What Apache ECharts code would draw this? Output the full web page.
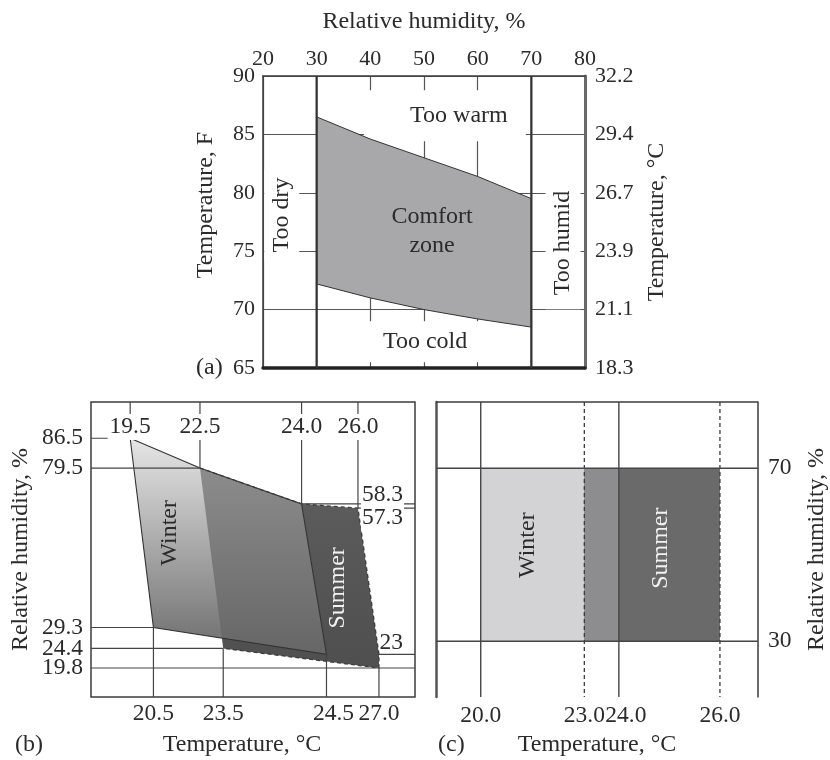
<!DOCTYPE html>
<html><head><meta charset="utf-8">
<script src="https://cdn.jsdelivr.net/npm/echarts@6/dist/echarts.min.js"></script>
<style>html,body{margin:0;padding:0;background:#fff}#c{width:830px;height:760px}</style>
</head><body><div id="c"></div>
<script>
// ---------- Panel (a): comfort zone on RH / temperature ----------
const aRH = [30, 40, 50, 60, 70];
const aUpperF = [86.5, 84.6, 83.0, 81.4, 79.5];
const aLowerF = [72.2, 71.0, 70.0, 69.2, 68.5];
const aLimitRH = [30, 70];
const aFTicks = [65, 70, 75, 80, 85, 90];
const aCTickLabels = ['18.3', '21.1', '23.9', '26.7', '29.4', '32.2'];

// ---------- Panel (b): winter / summer zones (schematic) ----------
const bWinterT = [19.5, 22.5, 24.0, 24.5, 20.5];
const bWinterRH = [86.5, 79.5, 58.3, 23.0, 29.3];
const bSummerT = [22.5, 24.0, 26.0, 27.0, 27.0, 23.5];
const bSummerRH = [79.5, 58.3, 57.3, 23.0, 19.8, 24.4];
const bTopT = [19.5, 22.5, 24.0, 26.0];
const bTopRH = [86.5, 79.5, 58.3, 57.3];
const bBottomT = [20.5, 23.5, 24.5, 27.0];
const bBottomRH = [29.3, 24.4, 23.0, 19.8];
const bLeftRH = [86.5, 79.5, 29.3, 24.4, 19.8];
const bLeftT = [19.5, 22.5, 20.5, 23.5, 27.0];
const bRightRH = [58.3, 57.3, 23.0, 19.8];
const bRightT = [24.0, 26.0, 27.0, 27.0];
const bRightLabels = [58.3, 57.3, 23];

// ---------- Panel (c): winter / summer rectangles ----------
const cWinterT = [20.0, 24.0];
const cSummerT = [23.0, 26.0];
const cRH = [30, 70];
const cTempTicks = [20.0, 23.0, 24.0, 26.0];

// ---------- styling ----------
const FONT = 'Liberation Serif';
const TXT = '#2b2b2b';
const LINE = '#454545';
const FS_NAME = 24, FS_A = 22, FS_BC = 23.5, FS_NOTE = 24;
const labA = {fontFamily: FONT, fontSize: FS_A, color: TXT};
const labBC = {fontFamily: FONT, fontSize: FS_BC, color: TXT};
const nameSt = {fontFamily: FONT, fontSize: FS_NAME, color: TXT};
const PI2 = Math.PI / 2;

// axis shapes for the schematic panels (non-uniform scales reproduced with axis breaks)
const bX = {min: 19.25, max: 27.23, breaks: [
  {start: 19.5, end: 23.5, gap: 0.594},
  {start: 24.0, end: 24.5, gap: 0.159},
  {start: 24.5, end: 27.0, gap: 0.335}]};
const bY = {min: 13, max: 95, breaks: [{start: 58.3, end: 79.5, gap: 8.4}]};
const cX = {min: 19.115, max: 26.753, breaks: [{start: 20, end: 24, gap: 2.733}]};
const cY = {min: 17.1, max: 85.3};
// label nudges (layout only, pixels)
const bRightDy = [-9, 10, -12];
const bRightBg = ['#fff', '#fff', null];
const bBottomNudge = ['n', 'n', 'r', 'n'];
const cBottomNudge = ['n', 'n', 'r', 'n'];

// ---------- helpers ----------
function rect(T, RH) { return {T: [T[0], T[1], T[1], T[0]], RH: [RH[0], RH[0], RH[1], RH[1]]}; }
function idxOf(arr, v) { return arr.findIndex(r => Math.abs(r - v) < 1e-6); }
function clipHalf(poly, A, B, C) {
  const side = p => (B[0] - A[0]) * (p[1] - A[1]) - (B[1] - A[1]) * (p[0] - A[0]);
  const s = Math.sign(side(C)) || 1;
  const out = [];
  for (let i = 0; i < poly.length; i++) {
    const P = poly[i], Q = poly[(i + 1) % poly.length];
    const sp = side(P) * s, sq = side(Q) * s;
    if (sp >= 0) out.push(P);
    if ((sp >= 0) !== (sq >= 0)) {
      const t = sp / (sp - sq);
      out.push([P[0] + t * (Q[0] - P[0]), P[1] + t * (Q[1] - P[1])]);
    }
  }
  return out;
}
function polySeries(xi, yi, T, RH, style, z, open) {
  return {type: 'custom', xAxisIndex: xi, yAxisIndex: yi, z: z, silent: true,
    data: T.map((t, i) => [t, RH[i]]),
    renderItem(params, api) {
      if (params.dataIndex !== 0) return null;
      const pts = T.map((t, i) => api.coord([t, RH[i]]));
      return {type: open ? 'polyline' : 'polygon', shape: {points: pts}, style: style};
    }};
}
function overlapSeries(xi, yi, W, S, style, z) {
  return {type: 'custom', xAxisIndex: xi, yAxisIndex: yi, z: z, silent: true,
    data: W.T.map((t, i) => [t, W.RH[i]]),
    renderItem(params, api) {
      if (params.dataIndex !== 0) return null;
      const wp = W.T.map((t, i) => api.coord([t, W.RH[i]]));
      const sp = S.T.map((t, i) => api.coord([t, S.RH[i]]));
      const C = [sp.reduce((a, p) => a + p[0], 0) / sp.length, sp.reduce((a, p) => a + p[1], 0) / sp.length];
      const pts = clipHalf(wp, sp[0], sp[sp.length - 1], C);
      return {type: 'polygon', shape: {points: pts}, style: style};
    }};
}
function segSeries(xi, yi, T, RH, dir, style, z) {
  return {type: 'custom', xAxisIndex: xi, yAxisIndex: yi, z: z, silent: true,
    data: T.map((t, i) => [t, RH[i]]),
    renderItem(params, api) {
      const p = api.coord([api.value(0), api.value(1)]);
      const cs = params.coordSys;
      let x2 = p[0], y2 = p[1];
      if (dir === 'up') y2 = cs.y; else if (dir === 'down') y2 = cs.y + cs.height;
      else if (dir === 'left') x2 = cs.x; else x2 = cs.x + cs.width;
      return {type: 'line', shape: {x1: p[0], y1: p[1], x2: x2, y2: y2}, style: style};
    }};
}
function fullV(xi, yi, T, yRef, style, z) {
  return {type: 'custom', xAxisIndex: xi, yAxisIndex: yi, z: z, silent: true,
    data: T.map(t => [t, yRef]),
    renderItem(params, api) {
      const x = api.coord([api.value(0), api.value(1)])[0];
      const cs = params.coordSys;
      return {type: 'line', shape: {x1: x, y1: cs.y, x2: x, y2: cs.y + cs.height}, style: style};
    }};
}
function fullH(xi, yi, RH, xRef, style, z) {
  return {type: 'custom', xAxisIndex: xi, yAxisIndex: yi, z: z, silent: true,
    data: RH.map(r => [xRef, r]),
    renderItem(params, api) {
      const y = api.coord([api.value(0), api.value(1)])[1];
      const cs = params.coordSys;
      return {type: 'line', shape: {x1: cs.x, y1: y, x2: cs.x + cs.width, y2: y}, style: style};
    }};
}
// RH tick labels of panel (b), placed on the y scale of that panel
function rhLabelSeries(xi, yi, values, xRef, side, margin, dy, bg, z) {
  return {type: 'custom', xAxisIndex: xi, yAxisIndex: yi, z: z, silent: true,
    data: values.map(v => [xRef, v]),
    renderItem(params, api) {
      const i = params.dataIndex;
      const y = api.coord([api.value(0), api.value(1)])[1];
      const cs = params.coordSys;
      const x = side === 'left' ? cs.x - margin : cs.x + cs.width - margin;
      return {type: 'text', x: x, y: y + (dy ? dy[i] : 0),
        style: {text: String(values[i]), fill: TXT, font: FS_BC + 'px "' + FONT + '"',
          align: 'right', verticalAlign: 'middle',
          backgroundColor: bg ? bg[i] : null, padding: [0, 1]}};
    }};
}
function textSeries(xi, yi, notes, z) {
  return {type: 'custom', xAxisIndex: xi, yAxisIndex: yi, z: z, silent: true,
    data: notes.map(n => [n.x, n.y]),
    renderItem(params, api) {
      const n = notes[params.dataIndex];
      const p = api.coord([n.x, n.y]);
      return {type: 'text', x: p[0], y: p[1], rotation: n.rot || 0,
        style: {text: n.text, fill: n.color || TXT, font: FS_NOTE + 'px "' + FONT + '"',
          align: 'center', verticalAlign: 'middle', lineHeight: 29,
          backgroundColor: n.bg || null, padding: n.pad || 0}};
    }};
}

// ---------- annotation placement (data coordinates) ----------
const aNotesHalo = [
  {text: 'Too warm', x: 53.9, y: 86.6, bg: '#fff', pad: [13, 18, 9, 46]},
  {text: 'Too dry', x: 23.5, y: 78.1, rot: PI2, bg: '#fff', pad: [3, 8]},
  {text: 'Too humid', x: 75.9, y: 75.7, rot: PI2, bg: '#fff', pad: [3, 14]},
  {text: 'Too cold', x: 50.2, y: 67.25, bg: '#fff', pad: [6, 18]}
];
const aNotesIn = [{text: 'Comfort\nzone', x: 51.5, y: 76.7}];
const bNotes = [
  {text: 'Winter', x: 21.2, y: 51.5, rot: PI2},
  {text: 'Summer', x: 25.03, y: 38.6, rot: PI2, color: '#f2f2f2'}
];
const cNotes = [
  {text: 'Winter', x: 21.35, y: 52.2, rot: PI2},
  {text: 'Summer', x: 24.82, y: 51.5, rot: PI2, color: '#f2f2f2'}
];

const line = (w, c) => ({show: true, onZero: false, lineStyle: {color: c || '#3c3c3c', width: w || 1.5}});
const noLine = {show: false};
const noTick = {show: false};
const noSplit = {show: false};
const solid = {stroke: LINE, lineWidth: 1.2};
const dashed = {stroke: '#3c3c3c', lineWidth: 1.3, lineDash: [4, 3]};
const grad = (a, b) => new echarts.graphic.LinearGradient(0, 0, 0, 1, [{offset: 0, color: a}, {offset: 1, color: b}]);
const nudgeRich = base => ({
  n: Object.assign({}, base),
  r: Object.assign({padding: [0, 0, 0, 14]}, base)
});

const cW = rect(cWinterT, cRH), cS = rect(cSummerT, cRH);
const bW = {T: bWinterT, RH: bWinterRH}, bS = {T: bSummerT, RH: bSummerRH};

const chart = echarts.init(document.getElementById('c'), null, {renderer: 'canvas'});
chart.setOption({
  animation: false,
  backgroundColor: '#fff',
  textStyle: {fontFamily: FONT},
  grid: [
    {left: 263, top: 76, width: 322, height: 292},
    {left: 91, top: 402, width: 324, height: 295, show: true, borderColor: '#3c3c3c', borderWidth: 1.5},
    {left: 436, top: 402, width: 324, height: 295}
  ],
  xAxis: [
    {gridIndex: 0, type: 'value', position: 'top', min: 20, max: 80, interval: 10,
      axisLine: line(1.5), axisTick: noTick, axisLabel: Object.assign({margin: 6}, labA),
      splitLine: {show: true, lineStyle: {color: '#555', width: 1.2}},
      name: 'Relative humidity, %', nameLocation: 'middle', nameGap: 42, nameTextStyle: nameSt},
    {gridIndex: 0, type: 'value', position: 'bottom', min: 20, max: 80, interval: 10,
      axisLine: line(3.5, '#222'), axisTick: noTick, axisLabel: {show: false}, splitLine: noSplit},
    Object.assign({gridIndex: 1, type: 'value', position: 'top', z: 10,
      breakArea: {show: false}, axisLine: noLine, axisTick: noTick, splitLine: noSplit,
      axisLabel: Object.assign({inside: true, margin: 12, customValues: bTopT,
        showMinLabel: true, showMaxLabel: true, formatter: v => v.toFixed(1),
        backgroundColor: '#fff', padding: [1, 2]}, labBC)}, bX),
    Object.assign({gridIndex: 1, type: 'value', position: 'bottom', z: 10,
      breakArea: {show: false}, axisLine: noLine, axisTick: noTick, splitLine: noSplit,
      axisLabel: Object.assign({margin: 5, customValues: bBottomT, showMinLabel: true, showMaxLabel: true,
        formatter: v => '{' + bBottomNudge[idxOf(bBottomT, v)] + '|' + v.toFixed(1) + '}',
        rich: nudgeRich(labBC)}, labBC),
      name: 'Temperature, \u00B0C', nameLocation: 'middle', nameGap: 36,
      nameTextStyle: Object.assign({padding: [0, 22, 0, 0]}, nameSt)}, bX),
    Object.assign({gridIndex: 2, type: 'value', position: 'top',
      breakArea: {show: false}, axisLine: noLine, axisTick: noTick, splitLine: noSplit,
      axisLabel: {show: false}}, cX),
    Object.assign({gridIndex: 2, type: 'value', position: 'bottom',
      breakArea: {show: false}, axisLine: noLine, axisTick: noTick, splitLine: noSplit,
      axisLabel: Object.assign({margin: 7, customValues: cTempTicks, showMinLabel: true, showMaxLabel: true,
        formatter: v => '{' + cBottomNudge[idxOf(cTempTicks, v)] + '|' + v.toFixed(1) + '}',
        rich: nudgeRich(labBC)}, labBC),
      name: 'Temperature, \u00B0C', nameLocation: 'middle', nameGap: 36, nameTextStyle: nameSt}, cX)
  ],
  yAxis: [
    {gridIndex: 0, type: 'value', position: 'left', min: 65, max: 90, interval: 5,
      axisLine: line(1.5), axisTick: noTick, axisLabel: Object.assign({margin: 8}, labA),
      splitLine: {show: true, lineStyle: {color: '#555', width: 1.2}},
      name: 'Temperature, F', nameLocation: 'middle', nameGap: 45,
      nameTextStyle: Object.assign({padding: [0, 0, 0, 34]}, nameSt)},
    {gridIndex: 0, type: 'value', position: 'right', min: 65, max: 90, interval: 5,
      axisLine: line(3, '#6a6a6a'), axisTick: noTick,
      axisLabel: Object.assign({margin: 10, formatter: v => aCTickLabels[aFTicks.indexOf(v)]}, labA),
      splitLine: noSplit,
      name: 'Temperature, \u00B0C', nameLocation: 'middle', nameGap: 60, nameTextStyle: nameSt},
    Object.assign({gridIndex: 1, type: 'value', position: 'left',
      breakArea: {show: false}, axisLine: noLine, axisTick: noTick, splitLine: noSplit,
      axisLabel: {show: false},
      name: 'Relative humidity, %', nameLocation: 'middle', nameGap: 58, nameTextStyle: nameSt}, bY),
    Object.assign({gridIndex: 2, type: 'value', position: 'left',
      axisLine: line(2.5, '#555'), axisTick: noTick, splitLine: noSplit, axisLabel: {show: false}}, cY),
    Object.assign({gridIndex: 2, type: 'value', position: 'right',
      axisLine: line(1.5), axisTick: noTick, splitLine: noSplit,
      axisLabel: Object.assign({margin: 10, customValues: cRH, showMinLabel: true, showMaxLabel: true,
        formatter: v => String(v)}, labBC),
      name: 'Relative humidity, %', nameLocation: 'middle', nameGap: 47, nameTextStyle: nameSt}, cY)
  ],
  series: [
    // ----- (a) -----
    textSeries(0, 0, aNotesHalo, 1),
    polySeries(0, 0, aRH.concat(aRH.slice().reverse()), aUpperF.concat(aLowerF.slice().reverse()),
      {fill: '#a8a8aa', stroke: '#333', lineWidth: 1}, 2),
    fullV(0, 0, aLimitRH, 75, {stroke: '#333', lineWidth: 2.2}, 3),
    textSeries(0, 0, aNotesIn, 4),
    // ----- (b) -----
    polySeries(2, 2, bSummerT, bSummerRH, {fill: grad('#5e5e5e', '#4f4f4f')}, 2),
    polySeries(2, 2, bWinterT, bWinterRH, {fill: grad('#e6e6e6', '#6c6c6c')}, 3),
    overlapSeries(2, 2, bW, bS, {fill: grad('#8c8c8c', '#666666')}, 4),
    polySeries(2, 2, bWinterT, bWinterRH, {fill: null, stroke: '#333', lineWidth: 1.1}, 5),
    polySeries(2, 2, bSummerT, bSummerRH, Object.assign({fill: null}, dashed), 5, true),
    segSeries(2, 2, bTopT, bTopRH, 'up', solid, 5),
    segSeries(2, 2, bBottomT, bBottomRH, 'down', solid, 5),
    segSeries(2, 2, bLeftT, bLeftRH, 'left', solid, 5),
    segSeries(2, 2, bRightT, bRightRH, 'right', solid, 5),
    rhLabelSeries(2, 2, bLeftRH, bTopT[0], 'left', 7, null, null, 7),
    rhLabelSeries(2, 2, bRightLabels, bTopT[0], 'right', 11, bRightDy, bRightBg, 7),
    textSeries(2, 2, bNotes, 6),
    // ----- (c) -----
    polySeries(4, 3, cW.T, cW.RH, {fill: '#d3d3d5'}, 2),
    polySeries(4, 3, cS.T, cS.RH, {fill: '#6a6a6a'}, 3),
    overlapSeries(4, 3, cW, cS, {fill: '#8d8d8f'}, 4),
    fullV(4, 3, cWinterT, cRH[0], {stroke: LINE, lineWidth: 1.4}, 5),
    fullV(4, 3, cSummerT, cRH[0], dashed, 5),
    fullH(4, 3, cRH, cWinterT[0], {stroke: LINE, lineWidth: 1.4}, 5),
    fullH(4, 3, [cY.max], cWinterT[0], {stroke: '#3c3c3c', lineWidth: 1.5}, 5),
    textSeries(4, 3, cNotes, 6)
  ],
  graphic: [
    {type: 'text', x: 196, y: 368, style: {text: '(a)', font: FS_NAME + 'px "' + FONT + '"', fill: TXT, verticalAlign: 'middle'}},
    {type: 'text', x: 15, y: 745, style: {text: '(b)', font: FS_NAME + 'px "' + FONT + '"', fill: TXT, verticalAlign: 'middle'}},
    {type: 'text', x: 438, y: 745, style: {text: '(c)', font: FS_NAME + 'px "' + FONT + '"', fill: TXT, verticalAlign: 'middle'}}
  ]
});
</script></body></html>
